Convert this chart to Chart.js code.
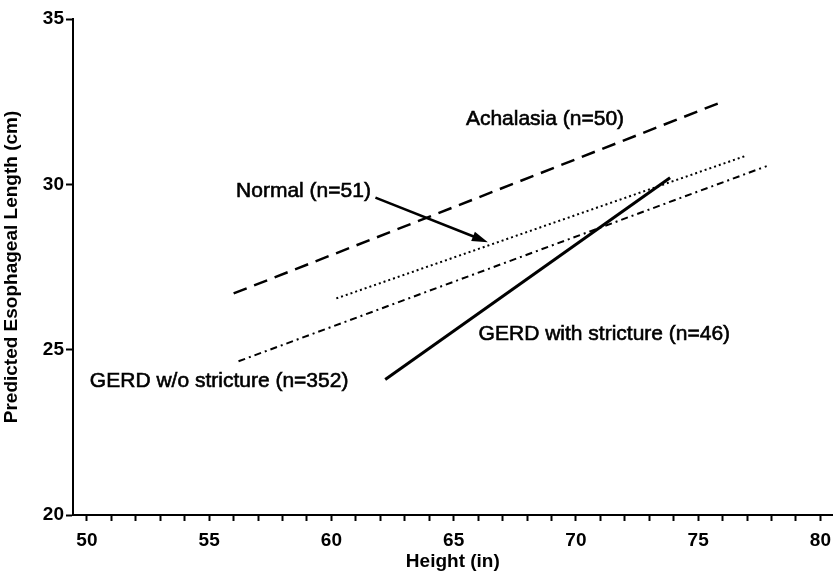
<!DOCTYPE html>
<html>
<head>
<meta charset="utf-8">
<script src="https://cdn.jsdelivr.net/npm/chart.js@4.4.1/dist/chart.umd.min.js"></script>
<style>
  html, body { margin: 0; padding: 0; background: #fff; }
  #wrap { width: 839px; height: 575px; position: relative; }
</style>
</head>
<body>
<div id="wrap"><canvas id="myChart"></canvas></div>
<script>
// Datos de las rectas de regresión (altura en pulgadas -> longitud esofágica en cm)
var achalasiaX = [56, 76];
var achalasiaY = [26.7, 32.5];
var normalX = [60.2, 76.9];
var normalY = [26.55, 30.85];
var gerdNoStrictureX = [56.2, 77.8];
var gerdNoStrictureY = [24.65, 30.55];
var gerdStrictureX = [62.2, 73.85];
var gerdStrictureY = [24.1, 30.2];

var xTicks = [50, 51, 52, 53, 54, 55, 56, 57, 58, 59, 60, 61, 62, 63, 64, 65, 66, 67, 68, 69, 70, 71, 72, 73, 74, 75, 76, 77, 78, 79, 80];
var yTicks = [20, 21, 22, 23, 24, 25, 26, 27, 28, 29, 30, 31, 32, 33, 34, 35];

// Etiquetas dentro del gráfico (posición en unidades de los ejes)
var labelTexts = ['Achalasia (n=50)', 'Normal (n=51)', 'GERD with stricture (n=46)', 'GERD w/o stricture (n=352)'];
var labelX = [65.5, 56.1, 66.02, 50.12];
var labelY = [31.98, 29.8, 25.48, 24.06];
var arrowFrom = [61.8, 29.6];
var arrowTo = [66.4, 28.25];

var fontFamily = '"Liberation Sans", Arial, sans-serif';

function toPoints(xs, ys) {
    return xs.map(function (x, i) { return { x: x, y: ys[i] }; });
}

var annotationPlugin = {
    id: 'annotations',
    afterDatasetsDraw: function (chart) {
        var ctx = chart.ctx;
        var sx = chart.scales.x, sy = chart.scales.y;
        ctx.save();
        ctx.fillStyle = '#000';
        ctx.strokeStyle = '#000';
        ctx.font = '21px ' + fontFamily;
        ctx.textAlign = 'left';
        ctx.textBaseline = 'middle';
        ctx.lineWidth = 0.6;
        labelTexts.forEach(function (t, i) {
            var px = sx.getPixelForValue(labelX[i]), py = sy.getPixelForValue(labelY[i]);
            ctx.fillText(t, px, py);
            ctx.strokeText(t, px, py); // un poco más gruesa, como en la figura impresa
        });
        // Flecha de "Normal"
        var x1 = sx.getPixelForValue(arrowFrom[0]), y1 = sy.getPixelForValue(arrowFrom[1]);
        var x2 = sx.getPixelForValue(arrowTo[0]), y2 = sy.getPixelForValue(arrowTo[1]);
        var ang = Math.atan2(y2 - y1, x2 - x1);
        ctx.lineWidth = 2.5;
        ctx.beginPath();
        ctx.moveTo(x1, y1);
        ctx.lineTo(x2 - 10 * Math.cos(ang), y2 - 10 * Math.sin(ang));
        ctx.stroke();
        ctx.beginPath();
        ctx.moveTo(x2, y2);
        ctx.lineTo(x2 - 16 * Math.cos(ang) + 5 * Math.sin(ang), y2 - 16 * Math.sin(ang) - 5 * Math.cos(ang));
        ctx.lineTo(x2 - 16 * Math.cos(ang) - 5 * Math.sin(ang), y2 - 16 * Math.sin(ang) + 5 * Math.cos(ang));
        ctx.closePath();
        ctx.fill();
        ctx.restore();
    }
};

var ctx = document.getElementById('myChart').getContext('2d');
var myChart = new Chart(ctx, {
    type: 'scatter',
    data: {
        datasets: [
            { label: 'Achalasia', data: toPoints(achalasiaX, achalasiaY), showLine: true, borderColor: '#000', borderWidth: 2.5, borderDash: [14, 8], pointRadius: 0 },
            { label: 'Normal', data: toPoints(normalX, normalY), showLine: true, borderColor: '#000', borderWidth: 2, borderDash: [2, 3], pointRadius: 0 },
            { label: 'GERD w/o stricture', data: toPoints(gerdNoStrictureX, gerdNoStrictureY), showLine: true, borderColor: '#000', borderWidth: 2, borderDash: [7, 4, 2, 4], pointRadius: 0 },
            { label: 'GERD with stricture', data: toPoints(gerdStrictureX, gerdStrictureY), showLine: true, borderColor: '#000', borderWidth: 3, pointRadius: 0 }
        ]
    },
    options: {
        responsive: true,
        maintainAspectRatio: false,
        animation: false,
        layout: { padding: { top: 19, right: 0, bottom: 0, left: 0 } },
        plugins: { legend: { display: false }, tooltip: { enabled: false } },
        scales: {
            x: {
                type: 'linear',
                min: 49.43,
                max: 80.5,
                afterBuildTicks: function (scale) { scale.ticks = xTicks.map(function (v) { return { value: v }; }); },
                afterFit: function (scale) { scale.height = 60; },
                border: { display: true, color: '#000', width: 2 },
                grid: { drawOnChartArea: false, drawTicks: true, tickLength: 6, tickColor: '#000', tickWidth: 2 },
                ticks: {
                    autoSkip: false,
                    maxRotation: 0,
                    padding: 8,
                    color: '#000',
                    font: { family: fontFamily, size: 19, weight: 'bold' },
                    callback: function (v) { return v % 5 === 0 ? v : ''; }
                },
                title: {
                    display: true,
                    text: 'Height (in)',
                    color: '#000',
                    padding: { top: 0, bottom: 2 },
                    font: { family: fontFamily, size: 19, weight: 'bold' }
                }
            },
            y: {
                type: 'linear',
                min: 20,
                max: 35,
                afterBuildTicks: function (scale) { scale.ticks = yTicks.map(function (v) { return { value: v }; }); },
                afterFit: function (scale) { scale.width = 73; },
                border: { display: true, color: '#000', width: 2 },
                grid: {
                    drawOnChartArea: false,
                    drawTicks: true,
                    tickLength: 7,
                    tickWidth: 2,
                    tickColor: function (c) { return c.tick && c.tick.value % 5 === 0 ? '#000' : 'rgba(0,0,0,0)'; }
                },
                ticks: {
                    autoSkip: false,
                    padding: 2,
                    color: '#000',
                    font: { family: fontFamily, size: 19, weight: 'bold' },
                    callback: function (v) { return v % 5 === 0 ? v : ''; }
                },
                title: {
                    display: true,
                    text: 'Predicted Esophageal Length (cm)',
                    color: '#000',
                    padding: { top: 0, bottom: 0 },
                    font: { family: fontFamily, size: 19, weight: 'bold' }
                }
            }
        }
    },
    plugins: [annotationPlugin]
});
</script>
</body>
</html>
